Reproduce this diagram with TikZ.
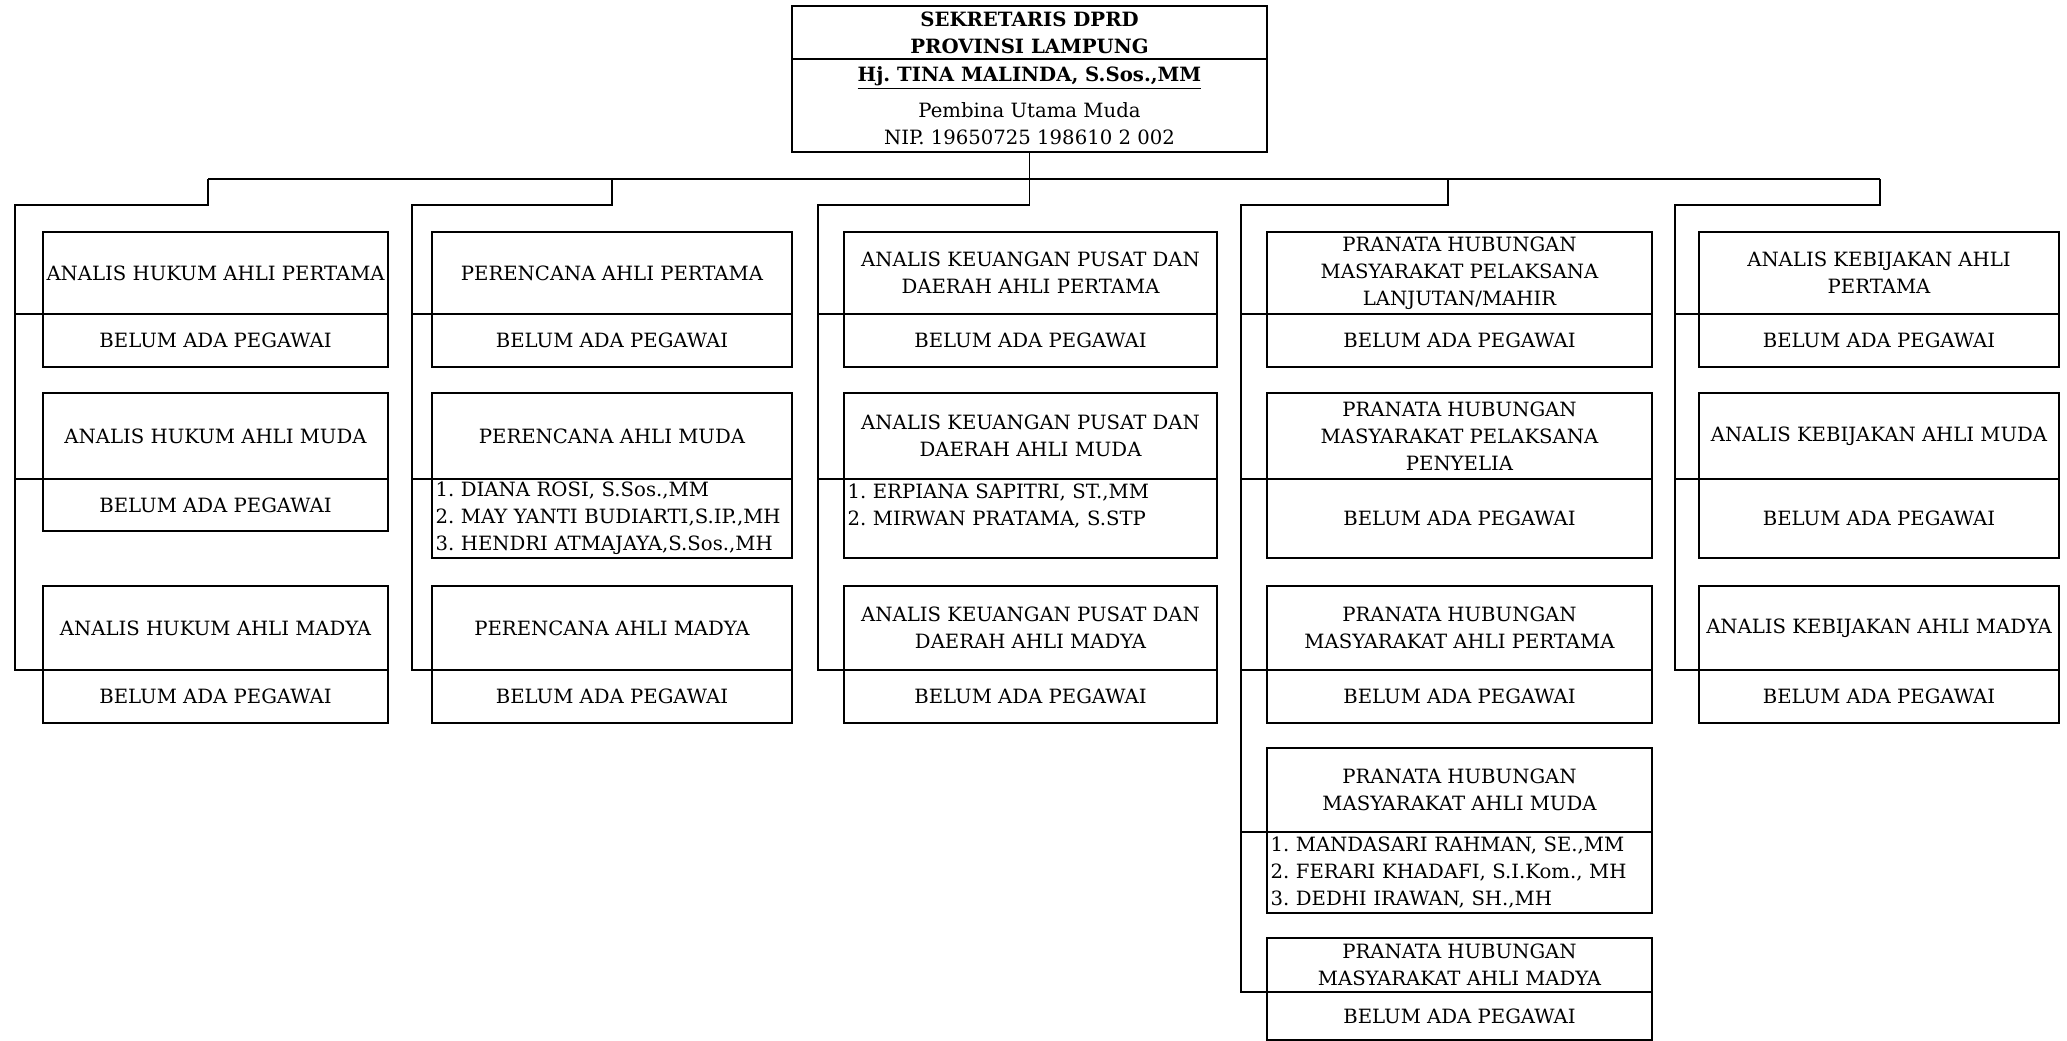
\documentclass[tikz,border=0pt]{standalone}
\usepackage{fontspec}
\setmainfont{DejaVu Serif}
\usetikzlibrary{positioning}

\newcommand{\teks}{\fontsize{11.2}{15.3}\selectfont\frenchspacing}

\begin{document}
\begin{tikzpicture}[x=0.02cm,y=-0.02cm,
  kotak/.style={draw, line width=0.8pt, inner xsep=2pt, inner ysep=1pt,
    outer sep=0pt, align=center, font=\teks},
  ukuran/.style 2 args={minimum width=#1*0.02cm, minimum height=#2*0.02cm},
  judul/.style={kotak, anchor=north west},
  isi/.style={kotak, below=0pt of #1},
  daftar/.style={align=left, text width=#1},
  garis/.style={line width=0.8pt}]

\useasboundingbox (0,0) rectangle (2067,1041);

% Sekretaris DPRD
\node[judul, ukuran={475}{53}] (sekr) at (792,6)
  {\textbf{SEKRETARIS DPRD}\\\textbf{PROVINSI LAMPUNG}};
\node[isi=sekr, ukuran={475}{93}] (kepala)
  {\textbf{\underline{Hj. TINA MALINDA, S.Sos.,MM}}\\[5pt]Pembina Utama Muda\\NIP. 19650725 198610 2 002};

% Analis hukum
\node[judul, ukuran={345}{82}] (ah1t) at (43,232) {ANALIS HUKUM AHLI PERTAMA};
\node[isi=ah1t, ukuran={345}{53}] (ah1s) {BELUM ADA PEGAWAI};
\node[judul, ukuran={345}{86}] (ah2t) at (43,393) {ANALIS HUKUM AHLI MUDA};
\node[isi=ah2t, ukuran={345}{52}] (ah2s) {BELUM ADA PEGAWAI};
\node[judul, ukuran={345}{84}] (ah3t) at (43,586) {ANALIS HUKUM AHLI MADYA};
\node[isi=ah3t, ukuran={345}{53}] (ah3s) {BELUM ADA PEGAWAI};

% Perencana
\node[judul, ukuran={360}{82}] (pr1t) at (432,232) {PERENCANA AHLI PERTAMA};
\node[isi=pr1t, ukuran={360}{53}] (pr1s) {BELUM ADA PEGAWAI};
\node[judul, ukuran={360}{86}] (pr2t) at (432,393) {PERENCANA AHLI MUDA};
\node[isi=pr2t, ukuran={360}{79}, daftar=7.06cm] (pr2s)
  {1. DIANA ROSI, S.Sos.,MM\\2. MAY YANTI BUDIARTI,S.IP.,MH\\3. HENDRI ATMAJAYA,S.Sos.,MH};
\node[judul, ukuran={360}{84}] (pr3t) at (432,586) {PERENCANA AHLI MADYA};
\node[isi=pr3t, ukuran={360}{53}] (pr3s) {BELUM ADA PEGAWAI};

% Analis keuangan pusat dan daerah
\node[judul, ukuran={373}{82}] (ak1t) at (844,232) {ANALIS KEUANGAN PUSAT DAN\\DAERAH AHLI PERTAMA};
\node[isi=ak1t, ukuran={373}{53}] (ak1s) {BELUM ADA PEGAWAI};
\node[judul, ukuran={373}{86}] (ak2t) at (844,393) {ANALIS KEUANGAN PUSAT DAN\\DAERAH AHLI MUDA};
\node[isi=ak2t, ukuran={373}{79}, daftar=7.32cm] (ak2s)
  {1. ERPIANA SAPITRI, ST.,MM\\2. MIRWAN PRATAMA, S.STP\\\mbox{}};
\node[judul, ukuran={373}{84}] (ak3t) at (844,586) {ANALIS KEUANGAN PUSAT DAN\\DAERAH AHLI MADYA};
\node[isi=ak3t, ukuran={373}{53}] (ak3s) {BELUM ADA PEGAWAI};

% Pranata hubungan masyarakat
\node[judul, ukuran={385}{82}] (ph1t) at (1267,232) {PRANATA HUBUNGAN\\MASYARAKAT PELAKSANA\\LANJUTAN/MAHIR};
\node[isi=ph1t, ukuran={385}{53}] (ph1s) {BELUM ADA PEGAWAI};
\node[judul, ukuran={385}{86}] (ph2t) at (1267,393) {PRANATA HUBUNGAN\\MASYARAKAT PELAKSANA\\PENYELIA};
\node[isi=ph2t, ukuran={385}{79}] (ph2s) {BELUM ADA PEGAWAI};
\node[judul, ukuran={385}{84}] (ph3t) at (1267,586) {PRANATA HUBUNGAN\\MASYARAKAT AHLI PERTAMA};
\node[isi=ph3t, ukuran={385}{53}] (ph3s) {BELUM ADA PEGAWAI};
\node[judul, ukuran={385}{84}] (ph4t) at (1267,748) {PRANATA HUBUNGAN\\MASYARAKAT AHLI MUDA};
\node[isi=ph4t, ukuran={385}{81}, daftar=7.56cm] (ph4s)
  {1. MANDASARI RAHMAN, SE.,MM\\2. FERARI KHADAFI, S.I.Kom., MH\\3. DEDHI IRAWAN, SH.,MH};
\node[judul, ukuran={385}{54}] (ph5t) at (1267,938) {PRANATA HUBUNGAN\\MASYARAKAT AHLI MADYA};
\node[isi=ph5t, ukuran={385}{48}] (ph5s) {BELUM ADA PEGAWAI};

% Analis kebijakan
\node[judul, ukuran={360}{82}] (kb1t) at (1699,232) {ANALIS KEBIJAKAN AHLI\\PERTAMA};
\node[isi=kb1t, ukuran={360}{53}] (kb1s) {BELUM ADA PEGAWAI};
\node[judul, ukuran={360}{86}] (kb2t) at (1699,393) {ANALIS KEBIJAKAN AHLI MUDA};
\node[isi=kb2t, ukuran={360}{79}] (kb2s) {BELUM ADA PEGAWAI};
\node[judul, ukuran={360}{84}] (kb3t) at (1699,586) {ANALIS KEBIJAKAN AHLI MADYA};
\node[isi=kb3t, ukuran={360}{53}] (kb3s) {BELUM ADA PEGAWAI};

% Garis komando
\coordinate (bus) at (0,179);
\coordinate (cab) at (0,205);
\coordinate (tr1) at (208,179);
\coordinate (tr2) at (612,179);
\coordinate (tr4) at (1448,179);
\coordinate (tr5) at (1880,179);
\coordinate (sp1) at (15,205);
\coordinate (sp2) at (412,205);
\coordinate (sp3) at (818,205);
\coordinate (sp4) at (1241,205);
\coordinate (sp5) at (1675,205);

\draw[garis] (tr1) -- (tr5);
\draw[garis] (kepala.south) -- (kepala.south |- cab) -- (sp3) |- (ak3t.south west);
\draw[garis] (tr1) -- (tr1 |- cab) -- (sp1) |- (ah3t.south west);
\draw[garis] (tr2) -- (tr2 |- cab) -- (sp2) |- (pr3t.south west);
\draw[garis] (tr4) -- (tr4 |- cab) -- (sp4) |- (ph5t.south west);
\draw[garis] (tr5) -- (tr5 |- cab) -- (sp5) |- (kb3t.south west);

% Cabang ke tiap jabatan
\foreach \n in {ah1t, ah2t} \draw[garis] (sp1 |- \n.south) -- (\n.south west);
\foreach \n in {pr1t, pr2t} \draw[garis] (sp2 |- \n.south) -- (\n.south west);
\foreach \n in {ak1t, ak2t} \draw[garis] (sp3 |- \n.south) -- (\n.south west);
\foreach \n in {ph1t, ph2t, ph3t, ph4t} \draw[garis] (sp4 |- \n.south) -- (\n.south west);
\foreach \n in {kb1t, kb2t} \draw[garis] (sp5 |- \n.south) -- (\n.south west);

\end{tikzpicture}
\end{document}
